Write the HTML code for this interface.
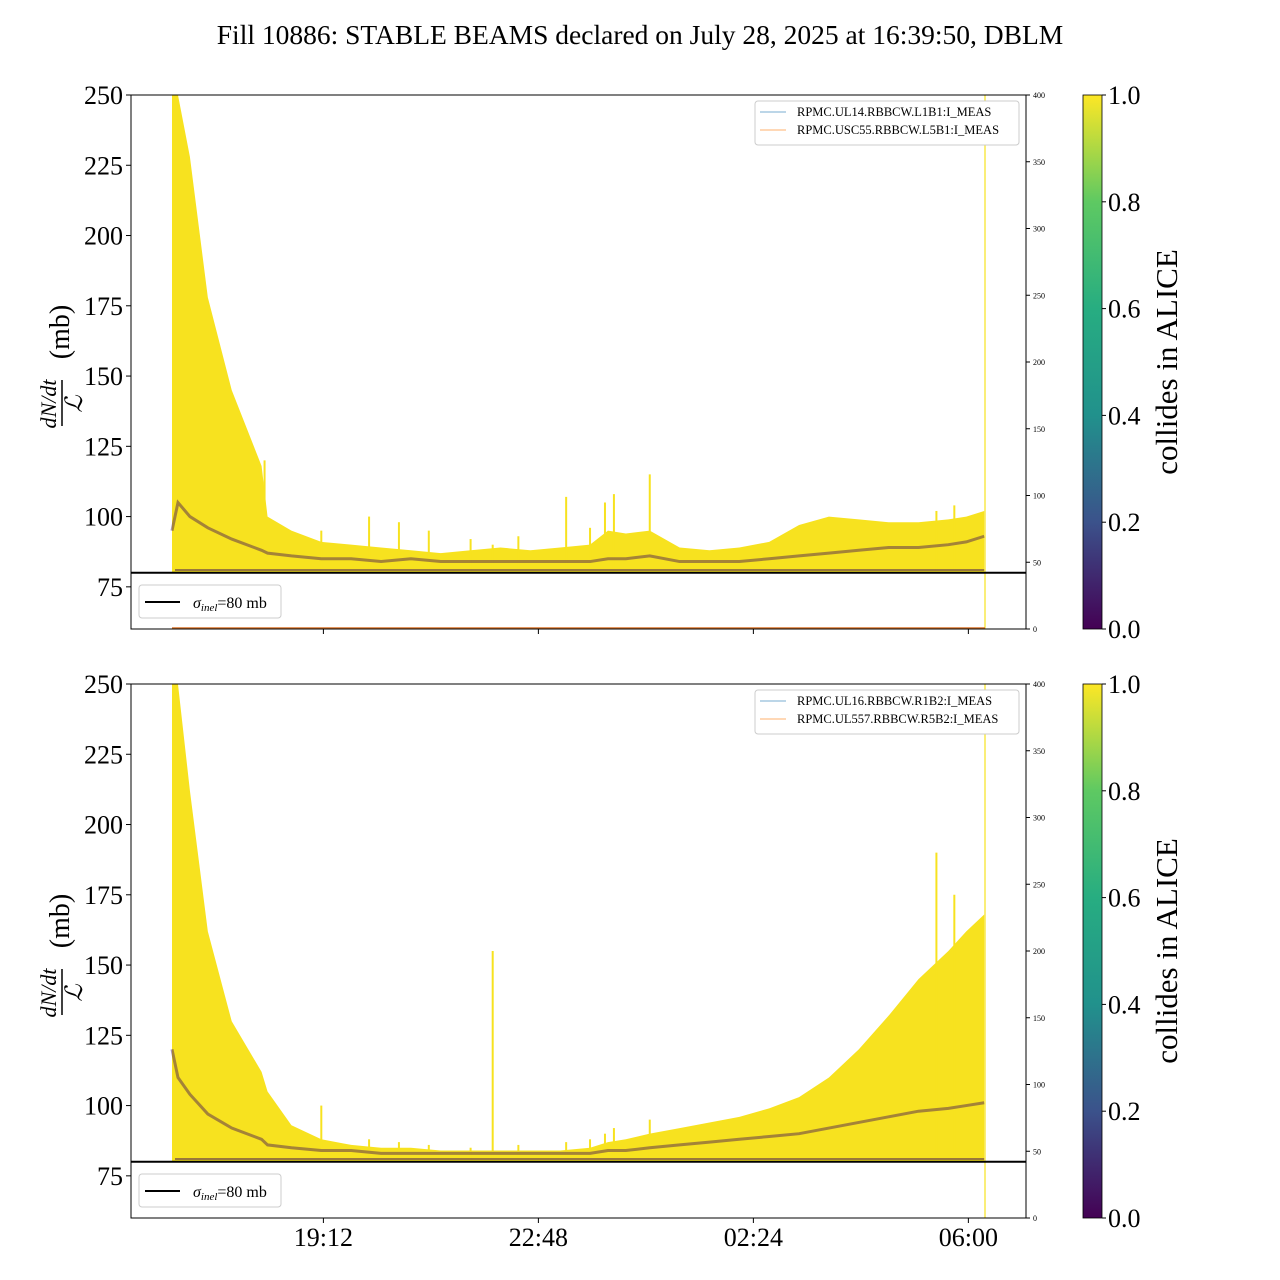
<!DOCTYPE html>
<html><head><meta charset="utf-8"><style>
html,body{margin:0;padding:0;background:#fff;}
svg{display:block;font-family:"Liberation Serif",serif;}
</style></head><body>
<svg id="fig" width="1280" height="1280" viewBox="0 0 1280 1280" xmlns="http://www.w3.org/2000/svg">
<defs>
<linearGradient id="vir" x1="0" y1="1" x2="0" y2="0">
<stop offset="0" stop-color="#440154"/><stop offset="0.2" stop-color="#3b528b"/><stop offset="0.4" stop-color="#21918c"/>
<stop offset="0.6" stop-color="#27ad81"/><stop offset="0.8" stop-color="#5ec962"/><stop offset="1" stop-color="#fde725"/>
</linearGradient>
</defs>
<text x="640" y="44" font-size="27.5" text-anchor="middle">Fill 10886: STABLE BEAMS declared on July 28, 2025 at 16:39:50, DBLM</text>
<g id="panels"></g>
</svg>
<script>
// time in hours since 16:39:50
const times = [0,0.1,0.3,0.6,1,1.5,1.6,2,2.5,3,3.5,4,4.5,5,5.5,6,6.5,7,7.3,7.6,8,8.5,9,9.5,10,10.5,11,11.5,12,12.5,13,13.3,13.6];
const topUpper = [250,250,228,178,145,118,100,95,91,90,89,88,87,88,89,88,89,90,95,94,95,89,88,89,91,97,100,99,98,98,99,100,102];
const topDark  = [95,105,100,96,92,88,87,86,85,85,84,85,84,84,84,84,84,84,85,85,86,84,84,84,85,86,87,88,89,89,90,91,93];
const botUpper = [250,250,212,162,130,112,105,93,88,86,85,85,84,84,84,84,84,85,87,88,90,92,94,96,99,103,110,120,132,145,155,162,168];
const botDark  = [120,110,104,97,92,88,86,85,84,84,83,83,83,83,83,83,83,83,84,84,85,86,87,88,89,90,92,94,96,98,99,100,101];
const spikeTimes = [1.55,2.5,3.3,3.8,4.3,5.0,5.37,5.8,6.6,7.0,7.25,7.4,8.0,12.8,13.1];
const topSpikes  = [120,95,100,98,95,92,90,93,107,96,105,108,115,102,104];
const botSpikes  = [106,100,88,87,86,85,155,86,87,88,90,92,95,190,175];
const yTicks = [75,100,125,150,175,200,225,250];
const rTicks = [0,50,100,150,200,250,300,350,400];
const cbTicks = [0.0,0.2,0.4,0.6,0.8,1.0];
const xTickHours = [2.535,6.135,9.735,13.335];
const xTickLabels = ["19:12","22:48","02:24","06:00"];

const NS="http://www.w3.org/2000/svg";
const root=document.getElementById('panels');
function el(tag,attrs,parent){const e=document.createElementNS(NS,tag);for(const k in attrs)e.setAttribute(k,attrs[k]);(parent||root).appendChild(e);return e;}

const X0=131,X1=1026;
const xs=t=>172+t*59.72;
function panel(top,upper,dark,spikes,legendNames,showX,name){
  const Y0=top,Y1=top+534;
  const ys=v=>Y1-(v-60)*(534/190);
  const yr=v=>Y1-v*(534/400);
  const g=el('g',{});
  
  
  const clip=el('clipPath',{id:'c'+name},g);
  el('rect',{x:X0,y:Y0,width:X1-X0,height:Y1-Y0},clip);
  const dg=el('g',{'clip-path':'url(#c'+name+')'},g);
  let d='M'+xs(times[0])+','+ys(80);
  times.forEach((t,i)=>{d+=' L'+xs(t)+','+ys(upper[i]);});
  d+=' L'+xs(times[times.length-1])+','+ys(80)+' Z';
  const a=el('path',{d:d,fill:'#f7e21f'},dg);
  
  
  spikeTimes.forEach((t,i)=>{
    const s=el('line',{x1:xs(t),x2:xs(t),y1:ys(80),y2:ys(spikes[i]),stroke:'#f7e21f','stroke-width':2},dg);
    
    
  });
  let dd='';
  times.forEach((t,i)=>{dd+=(i?' L':'M')+xs(t)+','+ys(dark[i]);});
  const l=el('path',{d:dd,fill:'none',stroke:'#3d0f55','stroke-width':3,'stroke-opacity':0.45},dg);
  
  
  const l2=el('line',{x1:xs(0.05),x2:xs(13.6),y1:ys(81),y2:ys(81),stroke:'#3d0f55','stroke-width':2,'stroke-opacity':0.5},dg);
  
  
  const v=el('line',{x1:985,x2:985,y1:Y0,y2:Y1,stroke:'#f7e21f','stroke-width':1.2},g);
  
  
  if(!showX){const o=el('line',{x1:172,x2:985,y1:Y1-1,y2:Y1-1,stroke:'#d9732a','stroke-width':1.5},g);
    }
  const s=el('line',{x1:X0,x2:X1,y1:ys(80),y2:ys(80),stroke:'#000','stroke-width':2},g);
  
  
  const f=el('rect',{x:X0,y:Y0,width:X1-X0,height:Y1-Y0,fill:'none',stroke:'#000','stroke-width':1},g);
  
  
  yTicks.forEach(v=>{
    el('line',{x1:X0-5,x2:X0,y1:ys(v),y2:ys(v),stroke:'#000'},g);
    const t=el('text',{x:X0-8,y:ys(v)+9,'font-size':26,'text-anchor':'end'},g);t.textContent=v;
    
  });
  rTicks.forEach(v=>{
    el('line',{x1:X1,x2:X1+4,y1:yr(v),y2:yr(v),stroke:'#000'},g);
    const t=el('text',{x:X1+7,y:yr(v)+3,'font-size':8},g);t.textContent=v;
    
  });
  xTickHours.forEach((h,i)=>{
    el('line',{x1:xs(h),x2:xs(h),y1:Y1,y2:Y1+5,stroke:'#000'},g);
    if(showX){const t=el('text',{x:xs(h),y:Y1+28,'font-size':26,'text-anchor':'middle'},g);t.textContent=xTickLabels[i];
      }
  });
  const yl=el('g',{transform:'translate(62,'+(Y0+267)+') rotate(-90)'},g);
  
  const t1=el('text',{x:-42,y:-6,'font-size':22,'font-style':'italic','text-anchor':'middle'},yl);t1.textContent='dN/dt';
  el('line',{x1:-64,x2:-18,y1:0,y2:0,stroke:'#000','stroke-width':1.5},yl);
  const t2=el('text',{x:-42,y:20,'font-size':24,'font-style':'italic','text-anchor':'middle'},yl);t2.textContent='ℒ';
  const t3=el('text',{x:30,y:7,'font-size':28,'text-anchor':'middle'},yl);t3.textContent='(mb)';
  const lg=el('g',{},g);
  el('rect',{x:755,y:Y0+6,width:264,height:44,rx:3,fill:'#fff',stroke:'#ccc'},lg);
  el('line',{x1:760,x2:786,y1:Y0+17,y2:Y0+17,stroke:'#1f77b4','stroke-width':1,'stroke-opacity':0.6},lg);
  el('line',{x1:760,x2:786,y1:Y0+35,y2:Y0+35,stroke:'#ff7f0e','stroke-width':1,'stroke-opacity':0.6},lg);
  const a1=el('text',{x:797,y:Y0+21,'font-size':12.5},lg);a1.textContent=legendNames[0];
  const a2=el('text',{x:797,y:Y0+39,'font-size':12.5},lg);a2.textContent=legendNames[1];
  const lb=el('g',{},g);
  el('rect',{x:139,y:Y1-44,width:142,height:33,rx:3,fill:'#fff',stroke:'#ccc'},lb);
  el('line',{x1:145,x2:180,y1:Y1-27,y2:Y1-27,stroke:'#000','stroke-width':2},lb);
  const st=el('text',{x:193,y:Y1-21,'font-size':16},lb);
  st.innerHTML='<tspan font-style="italic">σ</tspan><tspan font-style="italic" font-size="11" dy="3">inel</tspan><tspan dy="-3">=80 mb</tspan>';
  const cb=el('g',{},g);
  el('rect',{x:1083,y:Y0,width:19,height:534,fill:'url(#vir)',stroke:'#000','stroke-width':0.8},cb);
  cbTicks.forEach(v=>{const yy=Y1-v*534;
    el('line',{x1:1102,x2:1106,y1:yy,y2:yy,stroke:'#000'},cb);
    const t=el('text',{x:1108,y:yy+9,'font-size':26},cb);t.textContent=v.toFixed(1);});
  const ct=el('text',{transform:'translate(1177,'+(Y0+267)+') rotate(-90)','font-size':31,'text-anchor':'middle'},cb);ct.textContent='collides in ALICE';
}
panel(95,topUpper,topDark,topSpikes,["RPMC.UL14.RBBCW.L1B1:I_MEAS","RPMC.USC55.RBBCW.L5B1:I_MEAS"],false,'top-panel');
panel(684,botUpper,botDark,botSpikes,["RPMC.UL16.RBBCW.R1B2:I_MEAS","RPMC.UL557.RBBCW.R5B2:I_MEAS"],true,'bottom-panel');
</script>
</body></html>
